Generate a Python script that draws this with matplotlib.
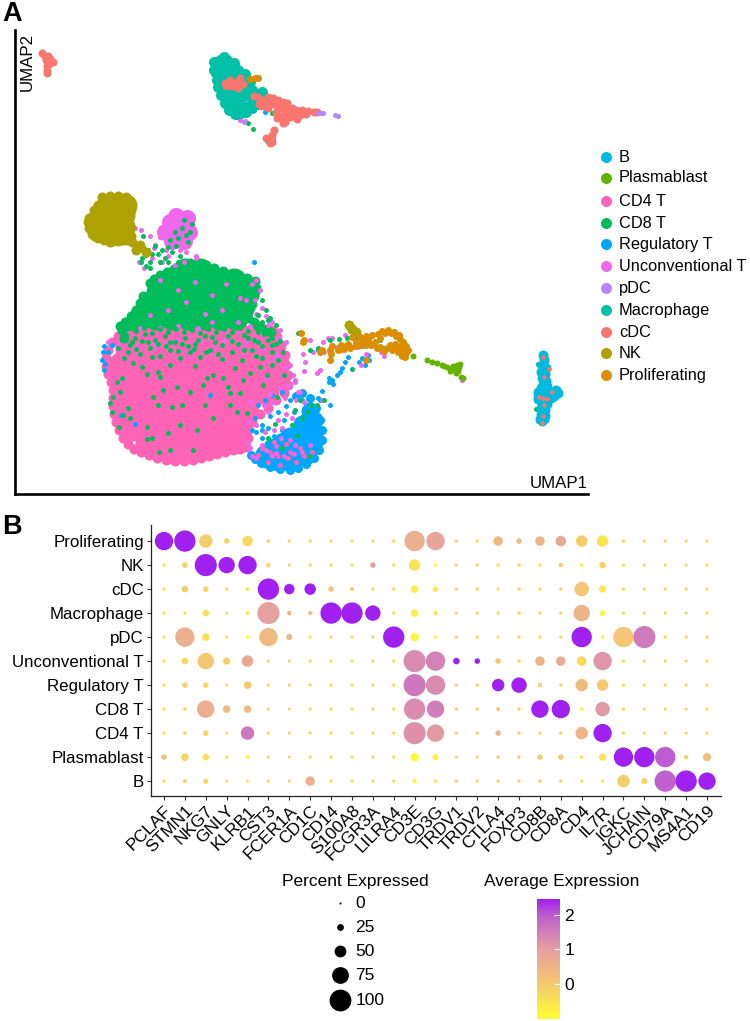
import matplotlib
matplotlib.use("Agg")
import matplotlib.pyplot as plt
import numpy as np
from matplotlib.colors import LinearSegmentedColormap

plt.rcParams['font.family'] = ['Liberation Sans', 'DejaVu Sans']

W, H = 750, 1021

# ---------- legend ----------
cell_types = ["B", "Plasmablast", "CD4 T", "CD8 T", "Regulatory T", "Unconventional T",
              "pDC", "Macrophage", "cDC", "NK", "Proliferating"]
cell_colors = ["#00BADE", "#64B200", "#FF63B6", "#00BD5C", "#00A6FF", "#EF67EB",
               "#B385FF", "#00C1A7", "#F8766D", "#AEA200", "#DB8E00"]

# ---------- UMAP: points (UMAP axes in picture units) ----------
cd4_core = [(130,335),(148,335),(166,335),(184,335),(202,335),(220,335),(238,335),(256,335),(268,337),
            (128,348),(146,348),(164,348),(182,348),(200,348),(218,348),(236,348),(254,348),(272,348),
            (122,364),(140,364),(158,364),(176,364),(194,364),(212,364),(230,364),(248,364),(266,364),(276,364),
            (124,380),(142,380),(160,380),(178,380),(196,380),(214,380),(232,380),(250,380),(268,380),(277,378),
            (124,396),(142,396),(160,396),(178,396),(196,396),(214,396),(232,396),(250,396),(266,392),
            (125,412),(143,412),(161,412),(179,412),(197,412),(215,412),(233,412),(246,412),
            (132,428),(150,428),(168,428),(186,428),(204,428),(222,428),(236,428),
            (148,443),(166,443),(184,443),(202,443),(220,443),(234,441),(172,451),(190,450)]
cd4_edge = [(112,342),(108,350),(106,358),(106,366),(108,374),(111,382),(113,390),(113,398),(113,406),
            (114,414),(116,422),(119,430),(123,438),(128,444),(134,449),(141,452),(149,455),(157,458),
            (166,460),(175,461),(184,461),(193,460),(201,458),(209,456),(217,454),(225,452),(233,450),
            (240,449),(246,447),(248,438),(248,430),(252,422),(260,414),(268,408),(276,400),(284,393),
            (288,385),(288,375),(286,365),(285,355),(281,345),(277,337),(118,336),(124,330)]
cd4_dots = [(262,448),(270,452),(278,456),(288,458),(296,462),(304,456),(312,452),(268,462),(280,465),(290,452),
            (258,455),(300,448),(286,444),(274,442)]
cd8_core = [(185,270),(200,270),(170,280),(186,280),(202,280),(218,280),(234,280),
            (158,292),(174,292),(190,292),(206,292),(222,292),(238,292),(248,290),
            (150,306),(166,306),(182,306),(198,306),(214,306),(230,306),(243,306),
            (140,318),(156,318),(172,318),(188,318),(204,318),(220,318),(236,318)]
cd8_edge = [(150,283),(154,279),(160,275),(167,272),(174,269),(182,265),(190,263),(198,263),(206,265),
            (214,268),(223,271),(231,274),(239,276),(247,278),(255,281),(256,288),(254,296),
            (252,304),(143,296),(140,303),(136,310),(131,316),(125,322),(122,330),(124,338),(133,326),
            (248,318),(254,322),(260,326),(266,330),(271,332),(248,312),(120,326)]
cd8_dots = [(133,363),(142,367),(158,372),(160,377),(122,378),(117,382),(147,374),(213,375),(223,378),(207,378),
            (260,367),(267,375),(250,373),(243,380),(230,393),(228,387),(203,385),(190,392),(177,387),(163,390),
            (153,397),(120,392),(113,397),(158,405),(128,408),(112,412),(123,415),(130,418),(205,405),(182,405),
            (172,407),(230,405),(147,427),(168,433),(152,438),(147,439),(119,427),(159,452),(170,450),(193,450),
            (247,413),(197,430),(240,393),(277,397),(126,335),(135,338),(145,334),(155,340),(165,336),(175,342),
            (185,338),(195,344),(205,336),(215,342),(228,336),(238,344),(248,338),(258,342),(268,340),(276,344),
            (130,345),(150,348),(170,350),(190,352),(210,350),(232,352),(252,350),(272,352),(140,354),(160,356),
            (180,358),(200,357),(222,359),(242,360),(262,358),(118,348),(128,352),(170,365),(195,366),(235,368),
            (256,356),(283,352),(272,365),(262,322),(270,318),(276,325),(258,315),(266,310),(272,338),(280,341),
            (222,345),(206,352),(188,346),(148,342),(110,403),(237,412),(213,418),(180,425),(263,385),(284,375),
            (139,250),(146,255),(150,262),(158,254),(165,258),(172,252),(180,256),(150,268),(143,247),(186,235),
            (178,238),(170,240),(190,232),(182,228),(188,242),(176,246),(192,224),(184,220),(175,232),(168,247),
            (128,202),(126,214),(97,221),(104,222),(114,218),(110,235),(100,230),(118,225),(125,237),(132,211),
            (143,236),(136,245),(131,232),(324,400),(317,405),(295,410),(302,418),(311,405),(307,412),(297,435),
            (282,448),(310,456),(268,438),(275,424),(292,425),(300,400),(352,369),(350,331),(347,338),(339,339),
            (330,340),(318,348),(298,333),(310,350),(358,338),(362,346),(380,340),(383,348),(413,356),
            (538,364),(536,409),(538,421),(230,98),(248,123),(253,129),(272,113),(237,117),
            (142,258),(148,250),(155,246),(162,250),(168,262),(178,262),(160,262),(152,254),(141,262),(146,266),
            (128,328),(136,331),(144,328),(152,333),(160,329),(168,332),(176,329),(184,332),(192,330),(200,333),
            (208,329),(216,332),(224,329),(232,332),(240,328),(248,331),(256,328),(264,334),(272,345),(122,340),
            (132,342),(142,341),(158,344),(170,342),(182,344),(198,340),(212,337),(232,341),(244,335),(254,340),
            (124,358),(136,349),(152,357),(166,346),(178,351),(194,349),(218,354),(244,350),(262,346),(278,360),
            (232,300),(262,300),(268,320),(258,332)]
unconv_core = [(170,222),(183,222),(165,232),(178,232),(189,232),(172,241),(184,241),(176,216),(187,218)]
unconv_dots = [(139,262),(144,268),(152,258),(162,262),(175,265),(186,252),(196,256),(154,248),(166,250),
               (180,250),(140,246),(160,237),(168,256),(184,262),(196,258),(160,280),(178,290),(195,282),
               (212,295),(226,284),(240,298),(168,310),(186,302),(205,314),(222,310),(246,300),(252,284),
               (256,280),(260,290),(255,300),(262,308),(256,314),(266,316),(272,322),(280,330),(150,315),
               (140,328),(160,328),(178,326),(198,328),(212,322),(238,322),(250,326),(268,325),(278,338),
               (135,348),(155,345),(178,340),(200,341),(224,340),(245,342),(262,348),(278,356),(286,342),
               (290,365),(293,375),(295,382),(298,392),(288,386),(284,368),(274,360),(118,345),(108,342),
               (266,378),(280,388),(270,394),(250,401),(264,405),(285,398),(296,400),(300,392),(304,402),
               (272,402),(322,400),(295,380),(328,338),(323,342),(310,340),(303,354),(313,352),(324,352),
               (337,347),(332,338),(341,350),(345,335),(358,347),(355,338),(381,352),(384,356),(366,354),
               (320,370),(317,373),(305,362),(304,371),(361,365),(125,214),(128,222),(135,228),(131,206),
               (141,230),(150,236),(155,245),(248,442),(252,456),(256,458),(266,450),(276,446),(272,456),
               (284,456),(294,454),(302,452),(262,445),(282,428),(274,430),(265,432),(256,425),(286,414),
               (292,418),(268,412),(278,420),(248,422),(295,445),(290,440),(281,438),(310,445),(276,453),(250,448),
               (218,88),(222,88),(217,59),(218,71),(223,62),(240,120),(245,121),(267,137),(462,380)]
treg_core = [(314,432),(308,420),(310,436),(298,443),(306,448),(295,458),(283,460),(272,458),(264,454),
             (285,450),(272,447),(313,446),(300,432),(290,436),(302,424),(298,456),(314,420),(310,411),
             (315,440),(306,456),(290,463),(278,462),(266,459),(292,446),(283,441)]
treg_edge = [(296,396),(302,393),(310,398),(316,408),(320,420),(322,430),(322,440),(319,450),(314,458),(306,464),
             (298,468),(290,470),(280,469),(270,467),(261,463),(255,459),(251,455),(259,457),(268,463)]
treg_dots = [(258,405),(265,400),(272,395),(282,392),(290,400),(286,406),(294,412),(278,412),(270,416),(262,425),
             (256,432),(252,430),(268,428),(284,420),(274,436),(262,438),(282,430),(255,418),(104,346),(103,352),
             (102,360),(105,364),(108,352),(112,345),(104,370),(121,415),(348,357),(345,362),(342,368),(340,372),
             (337,375),(332,380),(329,378),(333,384),(329,382),(322,391),(320,400),(318,398),(330,405),(318,350),
             (362,358),(369,360),(368,355),(359,362),(365,365),(302,400),(306,405),(262,430),(135,424),(210,395),
             (254,262),(332,345),(265,112),(221,77)]
nk_core = [(107,205),(120,205),(102,215),(113,215),(124,215),(95,222),(105,228),(118,228),(124,228),(112,235),(122,234),(98,231),(126,205)]
nk_edge = [(102,197),(110,196),(118,196),(126,197),(129,200),(131,210),(98,205),(94,210),(89,218),(88,222),
           (89,228),(92,234),(98,238),(104,240),(110,242),(118,241),(126,240),(132,242),(131,236),(130,225),
           (136,250),(146,252),(349,325),(352,329),(356,332),(140,245)]
macro_pts = [(220,60),(227,60),(234,63),(217,66),(224,67),(231,69),(238,70),(245,74),(216,73),(223,75),(230,77),
             (237,78),(244,80),(250,82),(217,80),(224,83),(218,87),(225,90),(233,90),(240,88),(247,90),(252,90),
             (221,95),(228,98),(235,97),(243,96),(256,94),(225,103),(232,105),(240,104),(248,106),(255,102),
             (229,110),(236,111),(244,110),(252,108),(235,114),(241,113),(246,112),(262,92),(224,57),(214,62),
             (214,70),(250,96),(258,104),(270,140)]
cdc_pts = [(225,83),(230,80),(236,82),(240,78),(243,84),(232,86),(238,88),(226,86),(258,97),(263,100),(268,102),
           (273,98),(278,100),(262,106),(268,108),(274,104),(280,105),(286,107),(292,108),(284,112),(290,112),
           (296,110),(302,110),(296,116),(290,117),(303,113),(308,111),(297,119),(314,112),(317,112),(283,123),
           (285,122),(274,130),(272,135),(271,138),(270,143),(266,138),(42,53),(45,56),(48,56),(46,60),(50,59),
           (53,62),(50,63),(47,66),(47,70),(47,73),(277,118),(269,138),(272,142),(268,97),(283,102),(270,104),
           (278,108),(287,103),(292,114),(282,116),(300,115),(286,118),(306,114),(265,103),(276,112),(259,104),(254,96)]
pdc_pts = [(318,113),(321,113),(323,113),(335,115),(338,116),(244,122)]
prolif_pts = [(250,79),(255,78),(258,78),(360,337),(366,336),(372,335),(378,334),(385,333),(391,333),(396,336),
              (400,339),(403,342),(406,346),(408,350),(406,353),(402,356),(398,352),(392,350),(387,348),(380,347),
              (375,342),(371,345),(366,345),(360,345),(355,346),(350,348),(344,349),(338,350),(330,350),(322,350),
              (320,352),(332,346),(341,345),(356,342),(352,337),(402,349),(395,344),(380,338),(405,357),(377,348),
              (301,333),(304,340),(303,342),(331,354),(330,360),(366,360),(368,340),(363,341),(382,331),(388,330),
              (394,332),(399,335),(390,345),(384,351),(400,346),(394,348),(348,344),(346,346)]
plasma_pts = [(427,360),(432,362),(437,363),(442,365),(447,367),(452,368),(457,365),(460,364),(455,370),(450,371),
              (456,373),(461,377),(463,378),(413,356),(459,367),(453,366),(458,371),(444,366)]
b_pts = [(543,355),(544,360),(542,365),(546,368),(541,372),(545,374),(542,378),(546,381),(543,384),(547,386),
         (541,388),(546,391),(538,392),(538,396),(542,395),(548,394),(553,392),(556,390),(558,393),(554,396),
         (551,398),(545,399),(538,399),(542,403),(547,404),(541,408),(545,410),(541,414),(545,416),(540,419),(544,419),(542,421)]
b_cdc_dots = [(543,357),(544,377),(539,397),(543,398),(547,399),(544,405),(543,416),(542,423),(549,369),(552,392)]

umap_layers = [
    (cd4_core, "#FF63B6", 26), (cd4_edge, "#FF63B6", 10),
    (treg_core, "#00A6FF", 18), (treg_edge, "#00A6FF", 9),
    (cd8_core, "#00BD5C", 24), (cd8_edge, "#00BD5C", 10),
    (treg_dots, "#00A6FF", 5), (cd4_dots, "#FF63B6", 5),
    (unconv_core, "#EF67EB", 17), (unconv_dots, "#EF67EB", 5),
    (cd8_dots, "#00BD5C", 5),
    (nk_core, "#AEA200", 22), (nk_edge, "#AEA200", 10),
    (macro_pts, "#00C1A7", 11), (cdc_pts, "#F8766D", 8),
    (pdc_pts, "#B385FF", 5), (prolif_pts, "#DB8E00", 7),
    (plasma_pts, "#64B200", 6), (b_pts, "#00BADE", 10), (b_cdc_dots, "#F8766D", 4.5),
]

# ---------- dot plot ----------
genes = ["PCLAF", "STMN1", "NKG7", "GNLY", "KLRB1", "CST3", "FCER1A", "CD1C", "CD14", "S100A8", "FCGR3A",
         "LILRA4", "CD3E", "CD3G", "TRDV1", "TRDV2", "CTLA4", "FOXP3", "CD8B", "CD8A", "CD4", "IL7R",
         "IGKC", "JCHAIN", "CD79A", "MS4A1", "CD19"]
dot_rows = ["B", "Plasmablast", "CD4 T", "CD8 T", "Regulatory T", "Unconventional T", "pDC", "Macrophage",
            "cDC", "NK", "Proliferating"]
pct_B            = [5,8,14,4,4,4,3,36,4,4,4,4,10,6,5,4,5,4,6,5,4,4,51,19,96,96,76]
pct_Plasmablast  = [16,26,21,5,8,4,4,4,4,4,4,4,31,19,4,4,5,4,16,16,6,24,86,91,91,10,29]
pct_CD4T         = [4,6,16,4,56,4,4,4,4,4,4,4,100,76,5,5,16,5,5,5,51,81,4,4,4,4,4]
pct_CD8T         = [4,6,76,26,26,4,4,4,4,4,4,4,96,76,5,5,8,5,76,81,5,61,4,4,4,4,4]
pct_RegT         = [4,16,16,4,26,4,4,4,4,4,4,4,100,86,5,5,51,66,10,5,51,46,4,4,4,4,4]
pct_UnconvT      = [4,21,71,24,46,4,4,4,4,4,4,4,100,86,21,16,16,5,36,36,36,81,4,4,4,4,4]
pct_pDC          = [4,86,26,4,4,81,19,4,4,4,4,96,31,5,5,5,5,5,6,5,91,5,91,100,5,5,5]
pct_Macrophage   = [4,4,21,4,8,100,10,10,96,96,66,4,26,10,5,5,5,5,5,5,71,16,4,4,4,4,4]
pct_cDC          = [4,21,16,5,7,96,41,46,16,8,5,4,26,16,5,5,5,5,5,5,61,24,4,4,4,4,4]
pct_NK           = [4,16,100,71,81,10,4,4,4,4,16,4,46,6,5,5,6,5,5,10,5,21,4,4,4,4,4]
pct_Prolif       = [81,96,56,16,41,7,5,4,4,4,4,4,91,81,5,5,36,16,36,41,46,46,5,5,4,4,4]
avg_B            = [-.3,-.2,-.2,-.4,-.7,-.3,-.3,.6,-.3,-.3,-.3,-.3,-.8,-.5,-.2,-.2,-.2,-.2,-.2,-.2,-.4,-.6,-.1,-.2,1.95,2.45,2.45]
avg_Plasmablast  = [.2,-.2,-.4,-.4,-.9,-.3,-.3,-.3,-.3,-.3,-.3,-.3,-.9,-.7,-.2,-.2,.1,-.1,-.1,0,-.6,-.5,2.45,2.45,2.0,-.2,.25]
avg_CD4T         = [-.4,-.3,-.3,-.4,1.6,-.3,-.3,-.3,-.3,-.3,-.3,-.3,1.2,1.1,-.2,-.2,.5,-.2,-.3,-.3,.5,2.45,-.3,-.3,-.3,-.3,-.3]
avg_CD8T         = [-.4,-.4,.65,.3,.3,-.3,-.3,-.3,-.3,-.3,-.3,-.3,1.3,1.5,-.2,-.2,.1,-.2,2.45,2.45,-.8,1.1,-.3,-.3,-.3,-.3,-.3]
avg_RegT         = [-.3,-.2,-.3,-.4,0,-.3,-.3,-.3,-.3,-.3,-.3,-.3,1.6,1.3,-.2,-.2,2.45,2.45,-.2,-.4,.3,0,-.3,-.3,-.3,-.3,-.3]
avg_UnconvT      = [-.4,-.3,.05,-.1,.8,-.3,-.3,-.3,-.3,-.3,-.3,-.3,1.3,1.45,2.45,2.45,.05,-.3,.55,.7,-.3,1.15,-.3,-.3,-.3,-.3,-.3]
avg_pDC          = [-.5,.6,-.4,-.5,-.9,.35,.4,-.4,-.3,-.3,-.3,2.45,-.8,-.7,-.3,-.3,-.6,-.4,-.5,-.4,2.45,-.9,.1,1.55,-.3,-.3,-.3]
avg_Macrophage   = [-.4,-.5,-.4,-.4,-.7,1.0,.6,.2,2.45,2.45,2.45,-.4,-.7,-.6,-.3,-.3,-.4,-.3,-.3,-.3,.5,-.8,-.3,-.3,-.3,-.3,-.3]
avg_cDC          = [-.4,-.1,-.3,-.5,-.5,2.45,2.45,2.45,0,-.1,-.3,-.4,-.7,-.6,-.3,-.3,-.5,-.3,-.3,-.3,.1,-.6,-.3,-.3,-.3,-.3,-.3]
avg_NK           = [-.4,-.2,2.45,2.45,2.45,-.3,-.3,-.3,-.3,-.3,1.0,-.3,-.5,-.8,-.3,-.3,-.7,-.3,-.5,-.1,-.7,-.2,-.3,-.3,-.3,-.3,-.3]
avg_Prolif       = [2.45,2.45,-.1,-.2,-.3,-.2,-.3,-.3,-.3,-.3,-.3,-.3,.6,.9,-.3,-.3,.4,.3,.5,.8,-.1,-.5,-.2,-.2,-.3,-.3,-.3]
pct_table = [pct_B, pct_Plasmablast, pct_CD4T, pct_CD8T, pct_RegT, pct_UnconvT, pct_pDC, pct_Macrophage, pct_cDC, pct_NK, pct_Prolif]
avg_table = [avg_B, avg_Plasmablast, avg_CD4T, avg_CD8T, avg_RegT, avg_UnconvT, avg_pDC, avg_Macrophage, avg_cDC, avg_NK, avg_Prolif]
size_legend_vals = [0, 25, 50, 75, 100]
colorbar_ticks = [0, 1, 2]

# ---------- helpers ----------
dpi = 100
fig = plt.figure(figsize=(W / dpi, H / dpi), dpi=dpi)

def axes_px(x0, y0, x1, y1, **kw):
    return fig.add_axes([x0 / W, 1 - y1 / H, (x1 - x0) / W, (y1 - y0) / H], **kw)

def s_px(d):
    return (np.asarray(d, dtype=float) * 72 / dpi) ** 2

def dia(pct):
    return 2.4 + 0.197 * np.asarray(pct, dtype=float)

cmap = LinearSegmentedColormap.from_list("ye_pu", [(0, "#FFFF33"), (.29, "#F5C96F"), (.58, "#E5A0A0"),
                                                    (.87, "#BD5CD0"), (1, "#A020F0")])
vmin, vmax = -1.02, 2.46
FS = 12.2

# ---------- panel A ----------
ax = axes_px(15, 30, 588, 494)
ax.set_xlim(15, 588)
ax.set_ylim(494, 30)
for pts, col, d in umap_layers:
    a = np.array(pts, dtype=float)
    ax.scatter(a[:, 0], a[:, 1], s=s_px(d), c=col, linewidths=0, clip_on=False)
ax.set_xticks([]); ax.set_yticks([])
for k in ("top", "right"):
    ax.spines[k].set_visible(False)
for k in ("left", "bottom"):
    ax.spines[k].set_linewidth(1.9)
    ax.spines[k].set_color("black")

# ---------- panel B ----------
bx = axes_px(151, 525, 721, 796)
bx.set_xlim(-0.622, 26.67)
bx.set_ylim(-0.62, 10.67)
gx, gy = np.meshgrid(np.arange(len(genes)), np.arange(len(dot_rows)))
P = np.array(pct_table, dtype=float); A = np.array(avg_table, dtype=float)
bx.scatter(gx.ravel(), gy.ravel(), s=s_px(dia(P.ravel())), c=A.ravel(), cmap=cmap, vmin=vmin, vmax=vmax, linewidths=0)
bx.set_xticks(np.arange(len(genes)))
bx.set_xticklabels(genes, rotation=45, ha="right", va="top", rotation_mode="anchor", fontsize=12.5)
bx.set_yticks(np.arange(len(dot_rows)))
bx.set_yticklabels(dot_rows, fontsize=FS)
bx.tick_params(axis="both", length=3.2, width=0.8, color="#333333", pad=2)
for k in ("top", "right"):
    bx.spines[k].set_visible(False)
for k in ("left", "bottom"):
    bx.spines[k].set_linewidth(0.9)
    bx.spines[k].set_color("#222222")

# ---------- colour bar ----------
cx = axes_px(537, 899, 560, 1019)
grad = np.linspace(vmax, vmin, 256).reshape(-1, 1)
cx.imshow(grad, aspect="auto", cmap=cmap, vmin=vmin, vmax=vmax, extent=[0, 1, vmin, vmax])
cx.set_xticks([]); cx.yaxis.tick_right()
cx.set_yticks(colorbar_ticks)
cx.set_yticklabels([str(t) for t in colorbar_ticks], fontsize=12.5)
cx.tick_params(axis="y", direction="in", length=4, width=0.8, color="white", pad=3)
for sp in cx.spines.values():
    sp.set_visible(False)

# ---------- overlay text and legends ----------
ov = axes_px(0, 0, W, H)
ov.set_xlim(0, W); ov.set_ylim(H, 0); ov.axis("off"); ov.patch.set_alpha(0)
ov.text(2, 21, "A", fontsize=19.5, fontweight="bold", ha="left", va="baseline")
ov.text(2, 534, "B", fontsize=19.5, fontweight="bold", ha="left", va="baseline")
ov.text(27, 62, "UMAP2", rotation=90, fontsize=12.2, ha="center", va="center")
ov.text(588, 483, "UMAP1", fontsize=12.2, ha="right", va="center")

legend_y = [157, 178, 201, 223, 244, 266, 288, 310, 332, 353, 375]
for name, col, y in zip(cell_types, cell_colors, legend_y):
    ov.scatter([606], [y], s=s_px(11), c=col, linewidths=0)
    ov.text(619, y, name, fontsize=11.8, ha="left", va="center")

ov.text(355, 881, "Percent Expressed", fontsize=12.5, ha="center", va="center")
ov.text(562, 881, "Average Expression", fontsize=12.5, ha="center", va="center")
for v, y in zip(size_legend_vals, [903, 927, 951, 975, 1000]):
    d = 2.0 if v == 0 else 1.8 + 0.2 * v
    ov.scatter([340], [y], s=s_px(d), c="black", linewidths=0)
    ov.text(355.5, y, str(v), fontsize=12.5, ha="left", va="center")

fig.savefig("out.png", dpi=dpi)
